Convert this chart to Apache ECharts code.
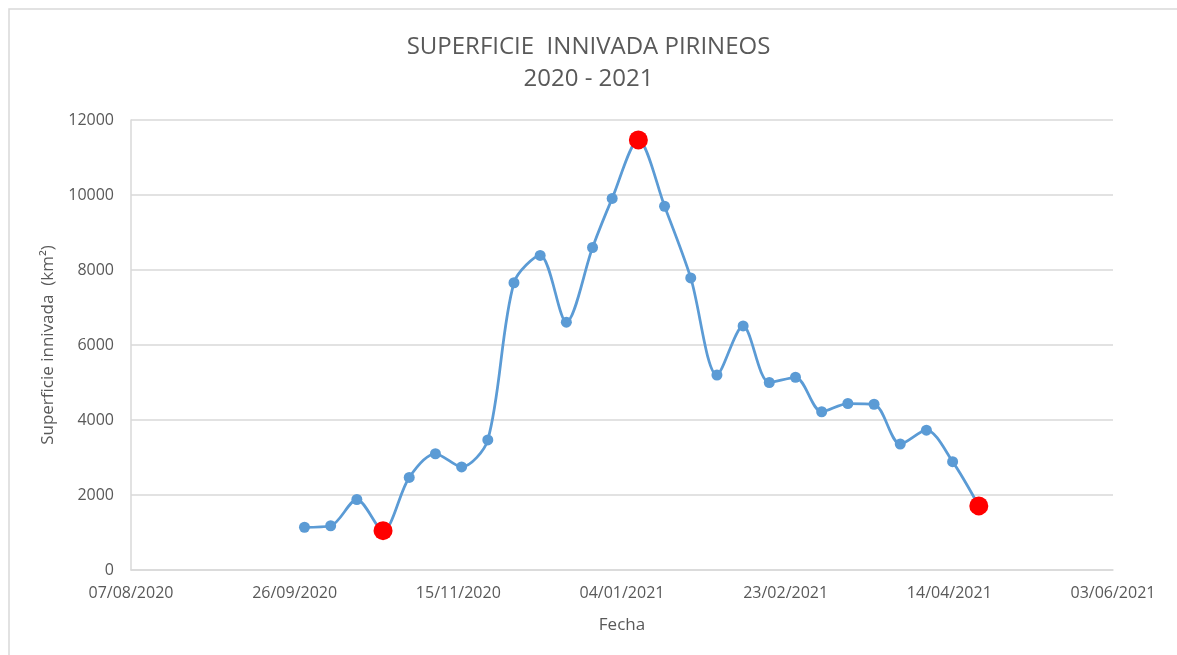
<!DOCTYPE html>
<html>
<head>
<meta charset="utf-8">
<script src="https://cdn.jsdelivr.net/npm/echarts@6/dist/echarts.min.js"></script>
<style>
  html, body { margin: 0; padding: 0; background: #fff; }
  #chart { width: 1177px; height: 655px; }
</style>
</head>
<body>
<div id="chart"></div>
<script>
// fechas de las imagenes (compuestos de 8 dias)
const fechas = [
  "2020-09-29", "2020-10-07", "2020-10-15", "2020-10-23", "2020-10-31",
  "2020-11-08", "2020-11-16", "2020-11-24", "2020-12-02", "2020-12-10",
  "2020-12-18", "2020-12-26", "2021-01-01", "2021-01-09", "2021-01-17",
  "2021-01-25", "2021-02-02", "2021-02-10", "2021-02-18", "2021-02-26",
  "2021-03-06", "2021-03-14", "2021-03-22", "2021-03-30", "2021-04-07",
  "2021-04-15", "2021-04-23"
];
// superficie innivada (km2)
const superficie = [
  1140, 1180, 1880, 1050, 2470,
  3100, 2750, 3470, 7660, 8390,
  6610, 8600, 9910, 11470, 9700,
  7790, 5200, 6510, 5000, 5140,
  4220, 4440, 4420, 3360, 3730,
  2890, 1710
];
// puntos destacados: minimo, maximo y ultimo
const destacados = ["2020-10-23", "2021-01-09", "2021-04-23"];

const ORIGEN = Date.UTC(2020, 7, 7); // 07/08/2020
const DIA = 86400000;
function dias(f) {
  const p = f.split("-").map(Number);
  return Math.round((Date.UTC(p[0], p[1] - 1, p[2]) - ORIGEN) / DIA);
}
function etiqueta(v) {
  const d = new Date(ORIGEN + v * DIA);
  const dd = String(d.getUTCDate()).padStart(2, "0");
  const mm = String(d.getUTCMonth() + 1).padStart(2, "0");
  return dd + "/" + mm + "/" + d.getUTCFullYear();
}

const serie = fechas.map((f, i) => [dias(f), superficie[i]]);
const rojos = serie.filter((p, i) => destacados.includes(fechas[i]));

const gris = "#595959";
const fuente = "'Open Sans', 'Liberation Sans', sans-serif";

const chart = echarts.init(document.getElementById("chart"));
chart.setOption({
  animation: false,
  backgroundColor: "#ffffff",
  textStyle: { fontFamily: fuente },
  title: {
    text: "SUPERFICIE  INNIVADA PIRINEOS\n2020 - 2021",
    left: "center",
    top: 26,
    textStyle: {
      color: gris,
      fontSize: 24,
      fontWeight: "normal",
      lineHeight: 32,
      fontFamily: fuente
    }
  },
  graphic: [{
    type: "rect",
    shape: { x: 9, y: 9, width: 1200, height: 700 },
    style: { fill: "none", stroke: "#d9d9d9", lineWidth: 1.5 },
    silent: true
  }],
  grid: { left: 131, right: 64, top: 120, bottom: 85 },
  xAxis: {
    type: "value",
    min: 0,
    max: 300,
    interval: 50,
    name: "Fecha",
    nameLocation: "middle",
    nameGap: 47,
    nameTextStyle: { color: gris, fontSize: 17 },
    axisLine: { show: true, lineStyle: { color: "#d9d9d9", width: 1.5 } },
    axisTick: { show: false },
    splitLine: { show: false },
    axisLabel: {
      color: gris,
      fontSize: 16,
      margin: 15,
      formatter: etiqueta
    }
  },
  yAxis: {
    type: "value",
    min: 0,
    max: 12000,
    interval: 2000,
    name: "Superficie innivada  (km²)",
    nameLocation: "middle",
    nameGap: 74,
    nameRotate: 90,
    nameTextStyle: { color: gris, fontSize: 17 },
    axisLine: { show: true, lineStyle: { color: "#d9d9d9", width: 1.5 } },
    axisTick: { show: false },
    splitLine: { lineStyle: { color: "#d9d9d9", width: 1.5 } },
    axisLabel: {
      color: gris,
      fontSize: 16,
      margin: 17,
      formatter: (v) => String(v)
    }
  },
  series: [
    {
      name: "Superficie",
      type: "line",
      data: serie,
      smooth: 0.3,
      symbol: "circle",
      symbolSize: 11,
      lineStyle: { color: "#5b9bd5", width: 2.75 },
      itemStyle: { color: "#5b9bd5" },
      z: 2
    },
    {
      name: "Destacados",
      type: "scatter",
      data: rojos,
      symbol: "circle",
      symbolSize: 19,
      itemStyle: { color: "#ff0000", opacity: 1 },
      z: 3
    }
  ]
});
</script>
</body>
</html>
